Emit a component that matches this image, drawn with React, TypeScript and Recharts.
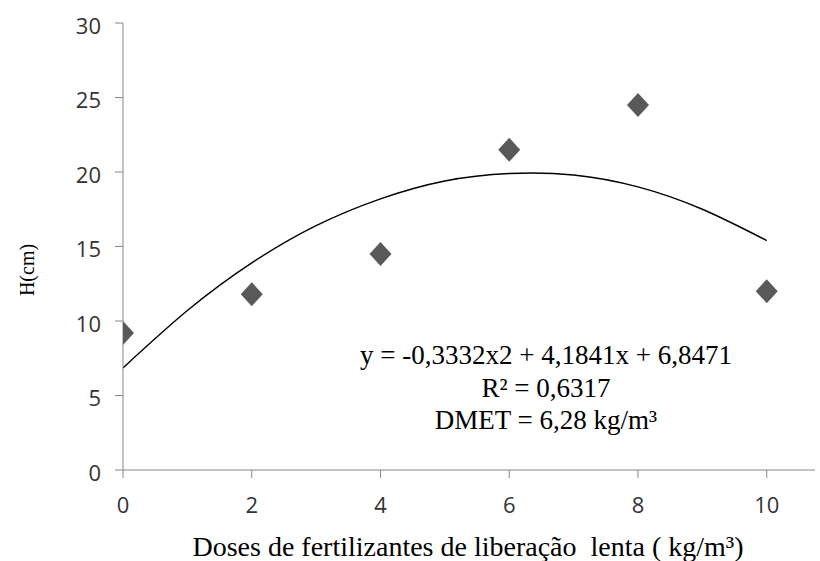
import { ComposedChart, Line, Scatter, XAxis, YAxis } from "recharts";

// observed heights (cm) for each dose
const doses = [0, 2, 4, 6, 8, 10];
const heights = [9.2, 11.8, 14.5, 21.5, 24.5, 12.0];

// trend curve
const trendX = [0, 1, 2, 3, 4, 5, 6, 7, 8, 9, 10];
const trendY = [6.85, 10.7, 13.9, 16.4, 18.2, 19.4, 19.9, 19.8, 19.0, 17.5, 15.4];

const xTicks = [0, 2, 4, 6, 8, 10];
const yTicks = [0, 5, 10, 15, 20, 25, 30];

const points = doses.map((d, i) => ({ x: d, y: heights[i] }));
const trend = trendX.map((d, i) => ({ x: d, y: trendY[i] }));

const axisColor = "#868686";
const tickStyle = { fontFamily: "'Open Sans', sans-serif", fontSize: 22, fill: "#333" };
const serif = "'Liberation Serif', 'Times New Roman', serif";

const Diamond = (props: any) => {
  const { cx, cy } = props;
  if (cx == null || cy == null) return null;
  return (
    <polygon
      points={`${cx},${cy - 12} ${cx + 11},${cy} ${cx},${cy + 12} ${cx - 11},${cy}`}
      fill="#595959"
    />
  );
};

const App = () => (
  <div style={{ position: "absolute", left: 0, top: 0, width: 820, height: 561, background: "#fff" }}>
    <ComposedChart
      width={820}
      height={561}
      margin={{ top: 23, right: 5, bottom: 61, left: 0 }}
    >
      <XAxis
        type="number"
        dataKey="x"
        domain={[0, 10.75]}
        ticks={xTicks}
        allowDataOverflow
        height={30}
        stroke={axisColor}
        tickSize={8}
        tickMargin={19}
        tick={tickStyle}
      />
      <YAxis
        type="number"
        dataKey="y"
        domain={[0, 30]}
        ticks={yTicks}
        width={123}
        stroke={axisColor}
        tickSize={8}
        tickMargin={14}
        tick={{ ...tickStyle, dy: 3 }}
      />
      <Line
        data={trend}
        dataKey="y"
        type="natural"
        stroke="#000"
        strokeWidth={1.4}
        dot={false}
        activeDot={false}
        isAnimationActive={false}
      />
      <Scatter data={points} dataKey="y" shape={Diamond} isAnimationActive={false} />
    </ComposedChart>

    <div
      style={{
        position: "absolute",
        left: 27,
        top: 270,
        transform: "translate(-50%, -50%) rotate(-90deg)",
        fontFamily: serif,
        fontSize: 20,
        color: "#000",
        whiteSpace: "nowrap",
      }}
    >
      H(cm)
    </div>

    <div
      style={{
        position: "absolute",
        left: 468,
        top: 547,
        transform: "translate(-50%, -50%)",
        fontFamily: serif,
        fontSize: 28,
        color: "#000",
        whiteSpace: "pre",
      }}
    >
      Doses de fertilizantes de liberação  lenta ( kg/m³)
    </div>

    <div
      style={{
        position: "absolute",
        left: 546,
        top: 388,
        transform: "translate(-50%, -50%)",
        fontFamily: serif,
        fontSize: 27,
        lineHeight: "32.5px",
        color: "#000",
        textAlign: "center",
        whiteSpace: "nowrap",
      }}
    >
      <div>y = -0,3332x2 + 4,1841x + 6,8471</div>
      <div>R² = 0,6317</div>
      <div>DMET = 6,28 kg/m³</div>
    </div>
  </div>
);

export default App;
